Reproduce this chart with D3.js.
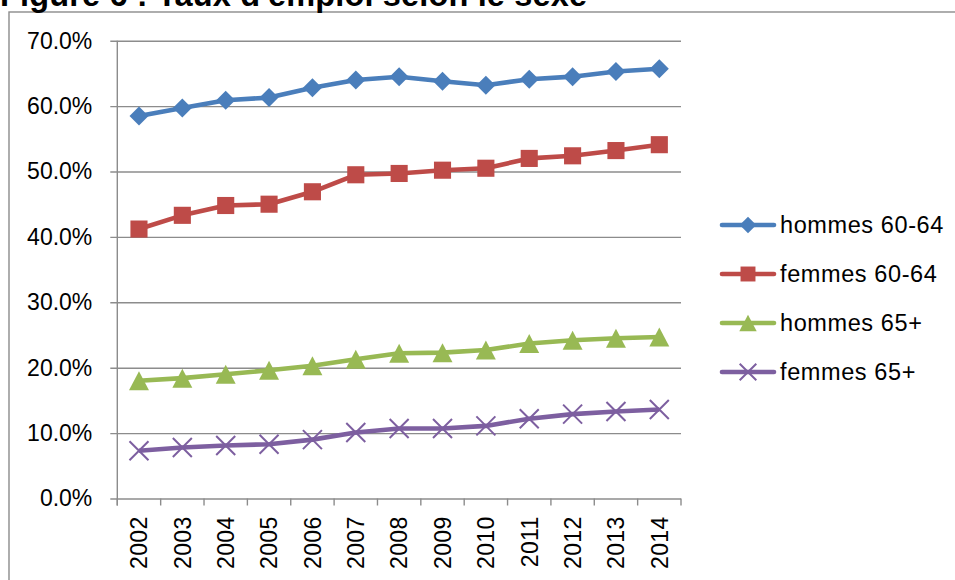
<!DOCTYPE html>
<html lang="fr">
<head>
    <meta charset="UTF-8">
    <title>Taux d'emploi selon le sexe</title>
    <script src="https://d3js.org/d3.v7.min.js"></script>
    <style>
        body { margin: 0; background: #fff; }
        svg { display: block; font-family: "Liberation Sans", Arial, sans-serif; }
    </style>
</head>
<body>
<div id="chart"></div>
<script>
    // données
    const years = ["2002", "2003", "2004", "2005", "2006", "2007", "2008", "2009", "2010", "2011", "2012", "2013", "2014"];
    const hommes6064 = [0.585, 0.597, 0.609, 0.613, 0.628, 0.640, 0.645, 0.638, 0.632, 0.641, 0.645, 0.653, 0.657];
    const femmes6064 = [0.412, 0.433, 0.448, 0.450, 0.469, 0.495, 0.497, 0.502, 0.505, 0.520, 0.524, 0.532, 0.541];
    const hommes65 = [0.180, 0.184, 0.190, 0.196, 0.203, 0.213, 0.222, 0.223, 0.227, 0.237, 0.242, 0.245, 0.247];
    const femmes65 = [0.073, 0.078, 0.081, 0.083, 0.090, 0.101, 0.107, 0.107, 0.111, 0.122, 0.129, 0.133, 0.136];
    const seriesNames = ["hommes 60-64", "femmes 60-64", "hommes 65+", "femmes 65+"];
    const yTicks = [0, 0.1, 0.2, 0.3, 0.4, 0.5, 0.6, 0.7];

    const colors = ["#4A7EBB", "#BE4B48", "#98B954", "#7D5FA0"];
    const markers = ["diamond", "square", "triangle", "cross"];
    const series = [hommes6064, femmes6064, hommes65, femmes65].map((v, i) => ({
        name: seriesNames[i], values: v, color: colors[i], marker: markers[i]
    }));

    const width = 955, height = 580;
    const plotLeft = 117.3, plotRight = 681, plotTop = 40.7, plotBottom = 498.5;
    const gridColor = "#8C8C8C";

    const svg = d3.select("#chart").append("svg")
        .attr("width", width)
        .attr("height", height);

    // cadre du graphique
    svg.append("rect")
        .attr("x", 9).attr("y", 12)
        .attr("width", 1200).attr("height", 1200)
        .attr("fill", "none")
        .attr("stroke", gridColor)
        .attr("stroke-width", 1.4);

    // titre (coupé en haut, comme sur l'original)
    svg.append("text")
        .attr("x", 0).attr("y", 6)
        .attr("font-size", "32.5px")
        .attr("font-weight", "bold")
        .attr("letter-spacing", "0.15px")
        .text("Figure 6 : Taux d'emploi selon le sexe");

    const x = d3.scaleBand().domain(years).range([plotLeft, plotRight]).padding(0);
    const y = d3.scaleLinear().domain([0, 0.7]).range([plotBottom, plotTop]);

    // grille + axe Y
    const yAxis = d3.axisLeft(y)
        .tickValues(yTicks)
        .tickFormat(d3.format(".1%"))
        .tickSize(plotRight - plotLeft + 7)
        .tickPadding(18);
    const gy = svg.append("g")
        .attr("transform", `translate(${plotRight},0)`)
        .call(yAxis);
    gy.select(".domain").remove();
    gy.selectAll(".tick line")
        .attr("stroke", gridColor)
        .attr("stroke-width", 1.4);
    gy.selectAll(".tick text")
        .attr("font-size", "23px")
        .attr("fill", "#000")
        .attr("font-family", "Liberation Sans, Arial, sans-serif");

    // axe vertical
    svg.append("line")
        .attr("x1", plotLeft).attr("x2", plotLeft)
        .attr("y1", plotTop).attr("y2", plotBottom + 7)
        .attr("stroke", gridColor).attr("stroke-width", 1.4);

    // axe X : graduations entre catégories
    const boundaries = years.map(d => x(d)).concat([plotRight]);
    svg.selectAll(".xtick")
        .data(boundaries)
        .enter().append("line")
        .attr("x1", d => d).attr("x2", d => d)
        .attr("y1", plotBottom).attr("y2", plotBottom + 7)
        .attr("stroke", gridColor).attr("stroke-width", 1.4);

    svg.selectAll(".xlabel")
        .data(years)
        .enter().append("text")
        .attr("transform", d => `translate(${x(d) + x.bandwidth() / 2 + 8.3},${plotBottom + 18}) rotate(-90)`)
        .attr("text-anchor", "end")
        .attr("font-size", "23px")
        .attr("letter-spacing", "0.3px")
        .text(d => d);

    // symboles
    function drawMarker(g, type, color, s) {
        if (type === "diamond") {
            g.append("path").attr("d", `M0,${-s}L${s},0L0,${s}L${-s},0Z`).attr("fill", color);
        } else if (type === "square") {
            g.append("rect").attr("x", -s * 0.9).attr("y", -s * 0.9)
                .attr("width", s * 1.8).attr("height", s * 1.8).attr("fill", color);
        } else if (type === "triangle") {
            g.append("path").attr("d", `M0,${-s}L${s * 1.05},${s}L${-s * 1.05},${s}Z`).attr("fill", color);
        } else {
            g.append("path").attr("d", `M${-s},${-s}L${s},${s}M${-s},${s}L${s},${-s}`)
                .attr("stroke", color).attr("stroke-width", 2).attr("fill", "none");
        }
    }

    const line = d3.line()
        .x((d, i) => x(years[i]) + x.bandwidth() / 2)
        .y(d => y(d));

    series.forEach(s => {
        svg.append("path")
            .datum(s.values)
            .attr("d", line)
            .attr("fill", "none")
            .attr("stroke", s.color)
            .attr("stroke-width", 4.6)
            .attr("stroke-linejoin", "round");

        svg.selectAll(null)
            .data(s.values)
            .enter().append("g")
            .attr("transform", (d, i) => `translate(${x(years[i]) + x.bandwidth() / 2},${y(d)})`)
            .each(function () { drawMarker(d3.select(this), s.marker, s.color, 9.5); });
    });

    // légende
    const legend = svg.append("g");
    series.forEach((s, i) => {
        const ly = 225 + i * 49;
        const item = legend.append("g").attr("transform", `translate(0,${ly})`);
        item.append("line")
            .attr("x1", 722).attr("x2", 774)
            .attr("stroke", s.color).attr("stroke-width", 4.6)
            .attr("stroke-linecap", "round");
        const m = item.append("g").attr("transform", "translate(748,0)");
        drawMarker(m, s.marker, s.color, 8.3);
        item.append("text")
            .attr("x", 780)
            .attr("y", 8.3)
            .attr("font-size", "23.5px")
            .attr("letter-spacing", "0.6px")
            .text(s.name);
    });
</script>
</body>
</html>
